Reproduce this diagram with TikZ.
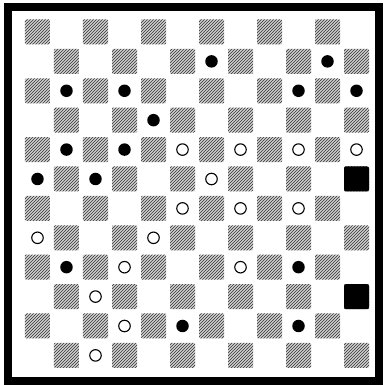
\documentclass[tikz,border=0pt]{standalone}
\usetikzlibrary{patterns}
\tikzset{
  board_frame/.style={draw=black,line width=8pt,line join=miter},
  sq_hatch/.style={fill=black!18,postaction={pattern=north east lines,pattern color=black!80},
    minimum size=25pt,inner sep=0pt,rounded corners=1pt},
  sq_solid/.style={fill=black,minimum size=25pt,inner sep=0pt,rounded corners=2pt},
  man_black/.style={circle,fill=black,minimum size=12.5pt,inner sep=0pt},
  man_white/.style={circle,draw=black,line width=1.1pt,fill=white,minimum size=11.5pt,inner sep=0pt},
}
\begin{document}
\begin{tikzpicture}[x=29pt,y=-29.4pt]
    % cell (c,r) sits at (c,r); page is 384x386
    \useasboundingbox (-1.293,-1.088) rectangle (11.948,12.041);
    \draw[board_frame] (-1.017,-0.850) rectangle (11.776,11.871);
    % dark squares
    \foreach \r in {0,...,11} {
      \pgfmathtruncatemacro{\off}{mod(\r,2)}
      \foreach \k in {0,...,5} {
        \node[sq_hatch] (s\r-\k) at ({2*\k+\off},\r) {};
      }
    }
    \node[sq_solid] (k1) at (11,5) {};
    \node[sq_solid] (k2) at (11,9) {};
    % black men
    \node[man_black] (b1) at (6,1) {};\node[man_black] (b2) at (10,1) {};
    \node[man_black] (b3) at (1,2) {};\node[man_black] (b4) at (3,2) {};
    \node[man_black] (b5) at (9,2) {};\node[man_black] (b6) at (11,2) {};
    \node[man_black] (b7) at (4,3) {};
    \node[man_black] (b8) at (1,4) {};\node[man_black] (b9) at (3,4) {};
    \node[man_black] (b10) at (0,5) {};\node[man_black] (b11) at (2,5) {};
    \node[man_black] (b12) at (1,8) {};\node[man_black] (b13) at (9,8) {};
    \node[man_black] (b14) at (5,10) {};\node[man_black] (b15) at (9,10) {};
    % white men
    \node[man_white] (w1) at (5,4) {};\node[man_white] (w2) at (7,4) {};
    \node[man_white] (w3) at (9,4) {};\node[man_white] (w4) at (11,4) {};
    \node[man_white] (w5) at (6,5) {};
    \node[man_white] (w6) at (5,6) {};\node[man_white] (w7) at (7,6) {};\node[man_white] (w8) at (9,6) {};
    \node[man_white] (w9) at (0,7) {};\node[man_white] (w10) at (4,7) {};
    \node[man_white] (w11) at (3,8) {};\node[man_white] (w12) at (7,8) {};
    \node[man_white] (w13) at (2,9) {};
    \node[man_white] (w14) at (3,10) {};
    \node[man_white] (w15) at (2,11) {};
  \end{tikzpicture}
\end{document}
